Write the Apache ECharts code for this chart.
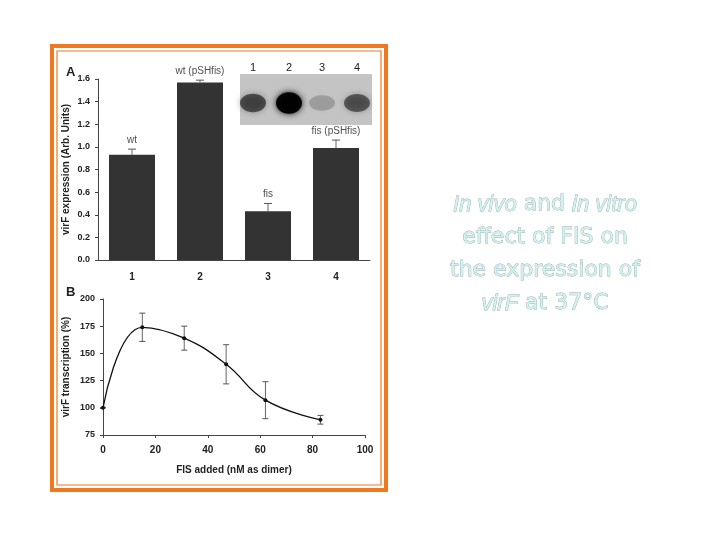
<!DOCTYPE html>
<html>
<head>
<meta charset="UTF-8">
<style>
  body { margin: 0; background: #fff; }
  #chart { width: 720px; height: 540px; }
</style>
</head>
<body>
<div id="chart"></div>
<script src="https://cdn.jsdelivr.net/npm/echarts@6/dist/echarts.min.js"></script>
<script>
// panel A: virF expression per strain
const lanes = ['1', '2', '3', '4'];
const expression = [0.93, 1.57, 0.43, 0.99];
const expressionErr = [0.05, 0.02, 0.07, 0.07];
const strainLabels = ['wt', 'wt (pSHfis)', 'fis', 'fis (pSHfis)'];
const aTicks = [0, 0.2, 0.4, 0.6, 0.8, 1.0, 1.2, 1.4, 1.6];

// panel B: in vitro transcription
const fisAdded = [0, 15, 31, 47, 62, 83];
const transcription = [100, 174, 164, 140, 107, 89];
const transcriptionErr = [0, 13, 11, 18, 17, 4];

const chart = echarts.init(document.getElementById('chart'));
const font = 'Liberation Sans';

function errBar(up, down) {
  return function (params, api) {
    const i = params.dataIndex;
    const x = api.value(0), y = api.value(1), e = api.value(2);
    const top = api.coord([x, y + e]);
    const bot = api.coord([x, down ? y - e : y]);
    const w = up;
    return {
      type: 'group',
      children: [
        { type: 'line', shape: { x1: top[0], y1: top[1], x2: bot[0], y2: bot[1] }, style: { stroke: '#666', lineWidth: 1 } },
        { type: 'line', shape: { x1: top[0] - w, y1: top[1], x2: top[0] + w, y2: top[1] }, style: { stroke: '#555', lineWidth: 1 } },
        down ? { type: 'line', shape: { x1: bot[0] - w, y1: bot[1], x2: bot[0] + w, y2: bot[1] }, style: { stroke: '#555', lineWidth: 1 } } : { type: 'group' }
      ]
    };
  };
}

const blotX = [253, 289, 322, 357];
const blotDark = [0.55, 0.95, 0.18, 0.5];

const option = {
  backgroundColor: '#fff',
  textStyle: { fontFamily: font },
  grid: [
    { left: 98, top: 79, width: 272, height: 181 },
    { left: 103, top: 299, width: 262, height: 136 }
  ],
  xAxis: [
    {
      gridIndex: 0, type: 'category', data: lanes,
      axisTick: { show: false },
      axisLine: { lineStyle: { color: '#444' } },
      axisLabel: { color: '#222', fontWeight: 'bold', fontSize: 10, margin: 12 }
    },
    {
      gridIndex: 1, type: 'value', min: 0, max: 100, interval: 20,
      splitLine: { show: false },
      axisLine: { lineStyle: { color: '#444' } },
      axisTick: { length: 3, lineStyle: { color: '#444' } },
      axisLabel: { color: '#222', fontWeight: 'bold', fontSize: 10, margin: 10 },
      name: 'FIS added (nM as dimer)', nameLocation: 'middle', nameGap: 30,
      nameTextStyle: { color: '#222', fontWeight: 'bold', fontSize: 10 }
    }
  ],
  yAxis: [
    {
      gridIndex: 0, type: 'value', min: 0, max: 1.6, interval: 0.2,
      splitLine: { show: false },
      axisLine: { show: true, lineStyle: { color: '#444' } },
      axisTick: { show: true, length: 3, lineStyle: { color: '#444' } },
      axisLabel: { color: '#222', fontWeight: 'bold', fontSize: 9,
        formatter: v => aTicks.includes(Math.round(v * 10) / 10) ? v.toFixed(1) : '' },
      name: 'virF expression (Arb. Units)', nameLocation: 'middle', nameGap: 27,
      nameTextStyle: { color: '#222', fontWeight: 'bold', fontSize: 10 }
    },
    {
      gridIndex: 1, type: 'value', min: 75, max: 200, interval: 25,
      splitLine: { show: false },
      axisLine: { show: true, lineStyle: { color: '#444' } },
      axisTick: { show: true, length: 3, lineStyle: { color: '#444' } },
      axisLabel: { color: '#222', fontWeight: 'bold', fontSize: 9 },
      name: 'virF transcription (%)', nameLocation: 'middle', nameGap: 32,
      nameTextStyle: { color: '#222', fontWeight: 'bold', fontSize: 10 }
    }
  ],
  series: [
    {
      type: 'bar', xAxisIndex: 0, yAxisIndex: 0, barWidth: 46,
      data: expression,
      itemStyle: { color: '#333' }
    },
    {
      type: 'custom', xAxisIndex: 0, yAxisIndex: 0,
      data: expression.map((v, i) => [i, v, expressionErr[i]]),
      renderItem: errBar(4, false),
      z: 3
    },
    {
      type: 'scatter', xAxisIndex: 0, yAxisIndex: 0, symbolSize: 0,
      data: expression.map((v, i) => [i, v + expressionErr[i]]),
      label: {
        show: true, position: 'top', distance: 4, color: '#222', fontSize: 10,
        formatter: p => strainLabels[p.dataIndex]
      }
    },
    {
      type: 'line', xAxisIndex: 1, yAxisIndex: 1, smooth: 0.45,
      data: fisAdded.map((x, i) => [x, transcription[i]]),
      symbol: 'circle', symbolSize: 4,
      lineStyle: { color: '#111', width: 1.3 },
      itemStyle: { color: '#111' }
    },
    {
      type: 'custom', xAxisIndex: 1, yAxisIndex: 1,
      data: fisAdded.map((x, i) => [x, transcription[i], transcriptionErr[i]]),
      renderItem: errBar(3, true)
    }
  ],
  graphic: [
    { type: 'rect', shape: { x: 52, y: 46, width: 334, height: 444 }, style: { fill: 'none', stroke: '#f07820', lineWidth: 4 } },
    { type: 'rect', shape: { x: 57, y: 51, width: 324, height: 434 }, style: { fill: 'none', stroke: '#f07820', lineWidth: 1.2 } },
    { type: 'text', left: 66, top: 66, style: { text: 'A', font: 'bold 13px ' + font, fill: '#222' } },
    { type: 'text', left: 66, top: 286, style: { text: 'B', font: 'bold 13px ' + font, fill: '#222' } },
    { type: 'rect', shape: { x: 240, y: 74, width: 132, height: 51 }, style: { fill: '#c4c4c4' }, z: 10 },
    ...blotX.map((x, i) => ({
      type: 'ellipse', shape: { cx: x, cy: 103, rx: 13, ry: 7 + blotDark[i] * 4 },
      style: { fill: 'rgba(0,0,0,' + blotDark[i] + ')', shadowBlur: 6, shadowColor: 'rgba(0,0,0,' + blotDark[i] + ')' }, z: 11
    })),
    ...blotX.map((x, i) => ({
      type: 'text', x: x - 3, y: 62, style: { text: lanes[i], font: '11px ' + font, fill: '#222' }, z: 11
    })),
    {
      type: 'text', x: 545, y: 188, z: 20,
      style: {
        text: '{i|In vivo} and {i|in vitro}\neffect of FIS on\nthe expression of\n{i|virF} at 37°C',
        align: 'center', lineHeight: 33,
        font: '22px "Comic Sans MS", "DejaVu Sans"',
        fill: '#d0f2f2', stroke: '#9aa', lineWidth: 0.8,
        rich: { i: { fontStyle: 'italic', fontSize: 22, fill: '#d0f2f2', stroke: '#9aa', lineWidth: 0.8 } }
      }
    }
  ]
};
chart.setOption(option);
</script>
</body>
</html>
